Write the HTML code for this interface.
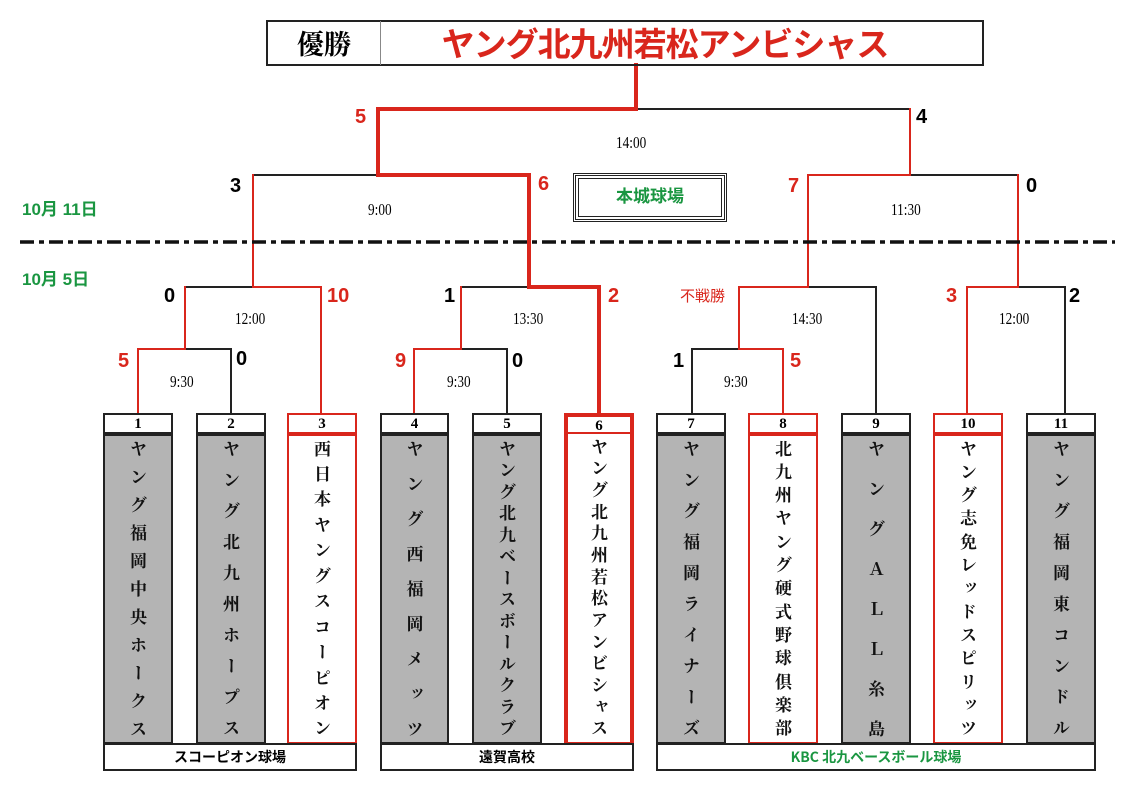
<!DOCTYPE html>
<html><head><meta charset="utf-8"><style>
body{margin:0;width:1136px;height:789px;background:#fff;position:relative;overflow:hidden;font-family:"Liberation Serif","Noto Serif CJK SC",serif}
.a{position:absolute}
.num{position:absolute;top:413px;height:21px;border:2px solid #222;box-sizing:border-box;background:#fff;text-align:center;font:bold 15px/18px "Liberation Serif",serif}
.col{position:absolute;top:434px;height:310px;box-sizing:border-box;border:2px solid #222;display:flex;flex-direction:column;justify-content:space-between;align-items:center;padding:2px 0 4px;font:bold 17px/20px "Noto Serif CJK JP","Noto Serif CJK SC",serif;color:#111}
.col div{writing-mode:vertical-rl;height:20px;text-align:center}
.g{background:#b4b4b4}
.r{border-color:#d9261c}
.ven{position:absolute;top:743px;height:28px;border:2px solid #222;box-sizing:border-box;background:#fff;text-align:center;font:bold 14px/24px "Noto Sans CJK JP",sans-serif}
.s{position:absolute;font:bold 20px/20px "Liberation Sans","Noto Sans CJK JP",sans-serif}
.red{color:#d9261c}
.t{position:absolute;font:17px/18px "Liberation Serif",serif;transform:scaleX(.78);transform-origin:left}
.gr{color:#1a9641;font:bold 17px/20px "Liberation Sans","Noto Sans CJK JP",sans-serif;position:absolute}
</style></head><body>
<svg class="a" style="left:0;top:0" width="1136" height="789">
<g fill="none" stroke-linecap="square">
<g stroke="#222" stroke-width="2">
<path d="M636 109H910"/><path d="M253 175H378"/><path d="M910 175H1018"/>
<path d="M185 287H253"/><path d="M461 287H529"/><path d="M808 287H876V413"/><path d="M1018 287H1065V413"/>
<path d="M185 349H231V413"/><path d="M461 349H507V413"/><path d="M692 413V349H739"/>
</g>
<g stroke="#d9261c" stroke-width="2">
<path d="M910 109V175"/><path d="M253 175V287H321V413"/><path d="M808 175H910"/><path d="M808 175V287H739V349H783V413"/><path d="M1018 175V287H967V413"/>
<path d="M185 287V349H138V413"/><path d="M461 287V349H414V413"/>
</g>
<g stroke="#d9261c" stroke-width="4">
<path d="M636 65V109H378V175H529V287H599V413"/>
</g>
<path d="M20 242H1115" stroke="#111" stroke-width="3.5" stroke-linecap="butt" stroke-dasharray="14 5 5 5"/>
</g>
</svg>
<div class="a" style="left:266px;top:20px;width:718px;height:46px;border:2px solid #222;box-sizing:border-box"></div>
<div class="a" style="left:380px;top:21px;width:1px;height:44px;background:#888"></div>
<div class="a" style="left:268px;top:22px;width:112px;text-align:center;font:bold 27px/42px 'Noto Serif CJK JP',serif">優勝</div>
<div class="a red" style="left:382px;top:21px;width:566px;text-align:center;font:bold 33px/42px 'Noto Sans CJK JP',sans-serif;letter-spacing:-1px">ヤング北九州若松アンビシャス</div>
<div class="a" style="left:573px;top:173px;width:154px;height:49px;border:3px double #222;box-sizing:border-box;outline:1px solid #222;outline-offset:-6px"></div>
<div class="gr" style="left:573px;top:187px;width:154px;text-align:center">本城球場</div>
<div class="gr" style="left:22px;top:200px">10月 11日</div>
<div class="gr" style="left:22px;top:270px">10月 5日</div>

<div class="s red" style="left:355px;top:107px">5</div>
<div class="s" style="left:916px;top:107px">4</div>
<div class="s" style="left:230px;top:176px">3</div>
<div class="s red" style="left:538px;top:174px">6</div>
<div class="s red" style="left:788px;top:176px">7</div>
<div class="s" style="left:1026px;top:176px">0</div>
<div class="s" style="left:164px;top:286px">0</div>
<div class="s red" style="left:327px;top:286px">10</div>
<div class="s" style="left:444px;top:286px">1</div>
<div class="s red" style="left:608px;top:286px">2</div>
<div class="a red" style="left:680px;top:288px;font:15px/16px 'Noto Sans CJK JP',sans-serif">不戦勝</div>
<div class="s red" style="left:946px;top:286px">3</div>
<div class="s" style="left:1069px;top:286px">2</div>
<div class="s red" style="left:118px;top:351px">5</div>
<div class="s" style="left:236px;top:349px">0</div>
<div class="s red" style="left:395px;top:351px">9</div>
<div class="s" style="left:512px;top:351px">0</div>
<div class="s" style="left:673px;top:351px">1</div>
<div class="s red" style="left:790px;top:351px">5</div>

<div class="t" style="left:616px;top:134px">14:00</div>
<div class="t" style="left:368px;top:201px">9:00</div>
<div class="t" style="left:891px;top:201px">11:30</div>
<div class="t" style="left:235px;top:310px">12:00</div>
<div class="t" style="left:513px;top:310px">13:30</div>
<div class="t" style="left:792px;top:310px">14:30</div>
<div class="t" style="left:999px;top:310px">12:00</div>
<div class="t" style="left:170px;top:373px">9:30</div>
<div class="t" style="left:447px;top:373px">9:30</div>
<div class="t" style="left:724px;top:373px">9:30</div>

<div class="num" style="left:103px;width:70px">1</div>
<div class="num" style="left:196px;width:70px">2</div>
<div class="num r" style="left:287px;width:70px">3</div>
<div class="num" style="left:380px;width:69px">4</div>
<div class="num" style="left:472px;width:70px">5</div>
<div class="num r" style="left:564px;width:70px;border-width:4px 4px 2px">6</div>
<div class="num" style="left:656px;width:70px">7</div>
<div class="num r" style="left:748px;width:70px">8</div>
<div class="num" style="left:841px;width:70px">9</div>
<div class="num r" style="left:933px;width:70px">10</div>
<div class="num" style="left:1026px;width:70px">11</div>

<div class="col g" style="left:103px;width:70px"><div>ヤ</div><div>ン</div><div>グ</div><div>福</div><div>岡</div><div>中</div><div>央</div><div>ホ</div><div>ー</div><div>ク</div><div>ス</div></div>
<div class="col g" style="left:196px;width:70px"><div>ヤ</div><div>ン</div><div>グ</div><div>北</div><div>九</div><div>州</div><div>ホ</div><div>ー</div><div>プ</div><div>ス</div></div>
<div class="col r" style="left:287px;width:70px"><div>西</div><div>日</div><div>本</div><div>ヤ</div><div>ン</div><div>グ</div><div>ス</div><div>コ</div><div>ー</div><div>ピ</div><div>オ</div><div>ン</div></div>
<div class="col g" style="left:380px;width:69px"><div>ヤ</div><div>ン</div><div>グ</div><div>西</div><div>福</div><div>岡</div><div>メ</div><div>ッ</div><div>ツ</div></div>
<div class="col g" style="left:472px;width:70px"><div>ヤ</div><div>ン</div><div>グ</div><div>北</div><div>九</div><div>ベ</div><div>ー</div><div>ス</div><div>ボ</div><div>ー</div><div>ル</div><div>ク</div><div>ラ</div><div>ブ</div></div>
<div class="col r" style="left:564px;width:70px;border-width:0 4px 4px;height:312px"><div>ヤ</div><div>ン</div><div>グ</div><div>北</div><div>九</div><div>州</div><div>若</div><div>松</div><div>ア</div><div>ン</div><div>ビ</div><div>シ</div><div>ャ</div><div>ス</div></div>
<div class="col g" style="left:656px;width:70px"><div>ヤ</div><div>ン</div><div>グ</div><div>福</div><div>岡</div><div>ラ</div><div>イ</div><div>ナ</div><div>ー</div><div>ズ</div></div>
<div class="col r" style="left:748px;width:70px"><div>北</div><div>九</div><div>州</div><div>ヤ</div><div>ン</div><div>グ</div><div>硬</div><div>式</div><div>野</div><div>球</div><div>倶</div><div>楽</div><div>部</div></div>
<div class="col g" style="left:841px;width:70px"><div>ヤ</div><div>ン</div><div>グ</div><div>Ａ</div><div>Ｌ</div><div>Ｌ</div><div>糸</div><div>島</div></div>
<div class="col r" style="left:933px;width:70px"><div>ヤ</div><div>ン</div><div>グ</div><div>志</div><div>免</div><div>レ</div><div>ッ</div><div>ド</div><div>ス</div><div>ピ</div><div>リ</div><div>ッ</div><div>ツ</div></div>
<div class="col g" style="left:1026px;width:70px"><div>ヤ</div><div>ン</div><div>グ</div><div>福</div><div>岡</div><div>東</div><div>コ</div><div>ン</div><div>ド</div><div>ル</div></div>

<div class="ven" style="left:103px;width:254px">スコーピオン球場</div>
<div class="ven" style="left:380px;width:254px">遠賀高校</div>
<div class="ven" style="left:656px;width:440px;color:#1a9641">KBC 北九ベースボール球場</div>
</body></html>
